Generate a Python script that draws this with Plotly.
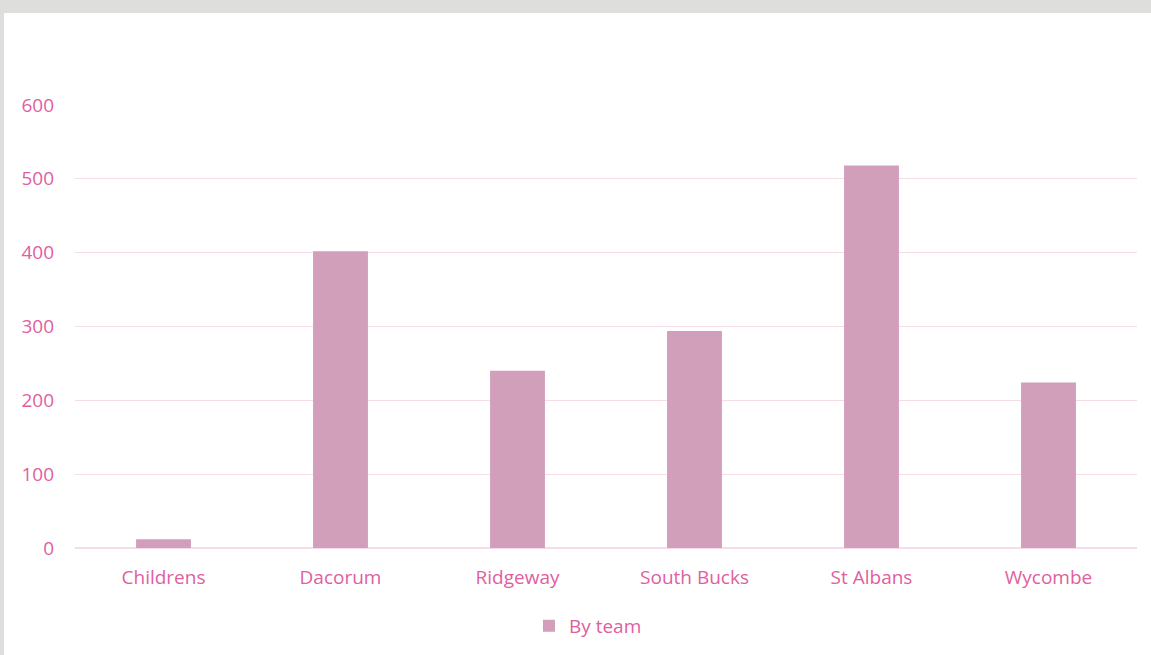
import plotly.graph_objects as go

teams = ["Childrens", "Dacorum", "Ridgeway", "South Bucks", "St Albans", "Wycombe"]
values = [12, 402, 240, 294, 518, 224]
series_name = "By team"
y_ticks = [0, 100, 200, 300, 400, 500, 600]

text_color = "#e0609f"
bar_color = "#d29fbb"
grid_color = "#f6dce9"

fig = go.Figure()
fig.add_trace(go.Bar(x=teams, y=values, name=series_name,
                     marker=dict(color=bar_color, line=dict(width=0))))

fig.update_layout(
    width=1151, height=655,
    margin=dict(l=75, r=14, t=105, b=107, autoexpand=False),
    paper_bgcolor="#dededc",
    plot_bgcolor="white",
    font=dict(family="Open Sans, Lato, sans-serif", size=19, color=text_color),
    bargap=0.69,
    showlegend=True,
    legend=dict(orientation="h", x=0.483, xanchor="center", y=-0.133, yanchor="top",
                bgcolor="rgba(0,0,0,0)",
                font=dict(size=19, color=text_color)),
    shapes=[dict(type="rect", xref="paper", yref="paper",
                 x0=-71/1062, x1=1.05, y0=-0.3, y1=(443+92)/443,
                 fillcolor="white", line=dict(width=0), layer="below")],
)
fig.update_xaxes(showgrid=False, showline=True, linecolor=grid_color, linewidth=1,
                 ticks="", ticklabelstandoff=12, tickfont=dict(color=text_color))
fig.update_yaxes(range=[0, 600], tickvals=y_ticks, showgrid=True, gridcolor=grid_color,
                 gridwidth=1, zeroline=True, zerolinecolor=grid_color, ticks="",
                 ticklabelstandoff=20, tickfont=dict(color=text_color))

fig.write_html("out.html", config={"displayModeBar": False},
               post_script="document.body.style.margin='0';document.body.style.padding='0';")
